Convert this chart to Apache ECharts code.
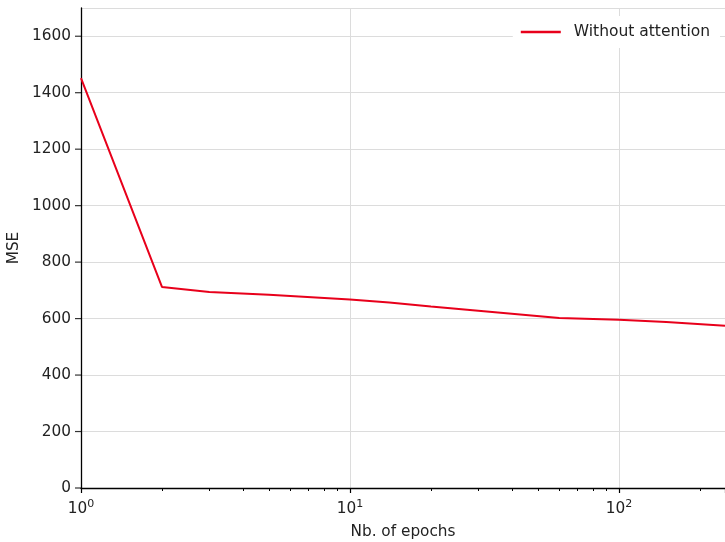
<!DOCTYPE html>
<html><head><meta charset="utf-8">
<script src="https://cdn.jsdelivr.net/npm/echarts@6/dist/echarts.min.js"></script>
<style>html,body{margin:0;padding:0;background:#fff}#c{width:725px;height:542px}</style>
</head><body><div id="c"></div>
<script>
const epochs = [1, 2, 3, 5, 10, 14, 20, 30, 60, 100, 150, 248];
const mse = [1452, 712, 694, 684, 668, 657, 643, 628, 602, 596, 588, 575];
const yTicks = [0, 200, 400, 600, 800, 1000, 1200, 1400, 1600];
const xMin = 1, xMax = 248, yMax = 1700;
const seriesName = 'Without attention';

const font = 'DejaVu Sans';
const chart = echarts.init(document.getElementById('c'), null, {renderer: 'canvas'});
chart.setOption({
  animation: false,
  backgroundColor: '#fff',
  textStyle: {fontFamily: font},
  grid: {left: 81, right: 0, top: 8, bottom: 54, containLabel: false, outerBoundsMode: 'none'},
  legend: {
    data: [seriesName], right: 5, top: 16,
    backgroundColor: '#fff', padding: [8, 10, 8, 8],
    icon: 'rect', itemWidth: 40, itemHeight: 2.5, itemGap: 10,
    textStyle: {fontFamily: font, fontSize: 15.5, color: '#222', padding: [0, 0, 0, 8]}
  },
  xAxis: {
    type: 'log', logBase: 10, min: xMin, max: xMax,
    name: 'Nb. of epochs', nameLocation: 'middle', nameGap: 37,
    nameTextStyle: {fontFamily: font, fontSize: 15.3, color: '#222'},
    axisLine: {show: true, onZero: false, lineStyle: {color: '#000', width: 1.3}},
    axisTick: {show: true, inside: false, length: 5, lineStyle: {color: '#000', width: 1.2}},
    minorTick: {show: true, splitNumber: 9, length: 3, lineStyle: {color: '#000', width: 1}},
    axisLabel: {
      showMaxLabel: false,
      formatter: v => {
        const e = Math.log10(v);
        if (Math.abs(e - Math.round(e)) > 1e-6) return '';
        return '{b|10}{s|' + Math.round(e) + '}';
      },
      rich: {
        b: {fontFamily: font, fontSize: 15.3, color: '#222'},
        s: {fontFamily: font, fontSize: 11, color: '#222', verticalAlign: 'top', padding: [0, 0, 9, 0]}
      },
      margin: 11
    },
    splitLine: {show: true, lineStyle: {color: '#dcdcdc', width: 1}}
  },
  yAxis: {
    type: 'value', min: 0, max: yMax, interval: 200,
    name: 'MSE', nameLocation: 'middle', nameGap: 58,
    nameTextStyle: {fontFamily: font, fontSize: 15.3, color: '#222'},
    axisLine: {show: true, onZero: false, lineStyle: {color: '#000', width: 1.3}},
    axisTick: {show: false},
    axisLabel: {fontFamily: font, fontSize: 15.3, color: '#222', margin: 10,
      showMaxLabel: false, formatter: v => (v > 1600 ? '' : String(v))},
    splitLine: {show: true, lineStyle: {color: '#dcdcdc', width: 1}}
  },
  series: [{
    name: seriesName, type: 'line',
    data: epochs.map((e, i) => [e, mse[i]]),
    showSymbol: false, symbol: 'none',
    lineStyle: {color: '#e8001b', width: 2},
    itemStyle: {color: '#e8001b'}, z: 3
  }, {
    name: 'yticks', type: 'scatter', silent: true, clip: false,
    data: yTicks.map(v => [xMin, v]),
    symbol: 'rect', symbolSize: [6, 1.2], symbolOffset: [-3, 0],
    itemStyle: {color: '#000'}, z: 5
  }]
});
</script></body></html>
